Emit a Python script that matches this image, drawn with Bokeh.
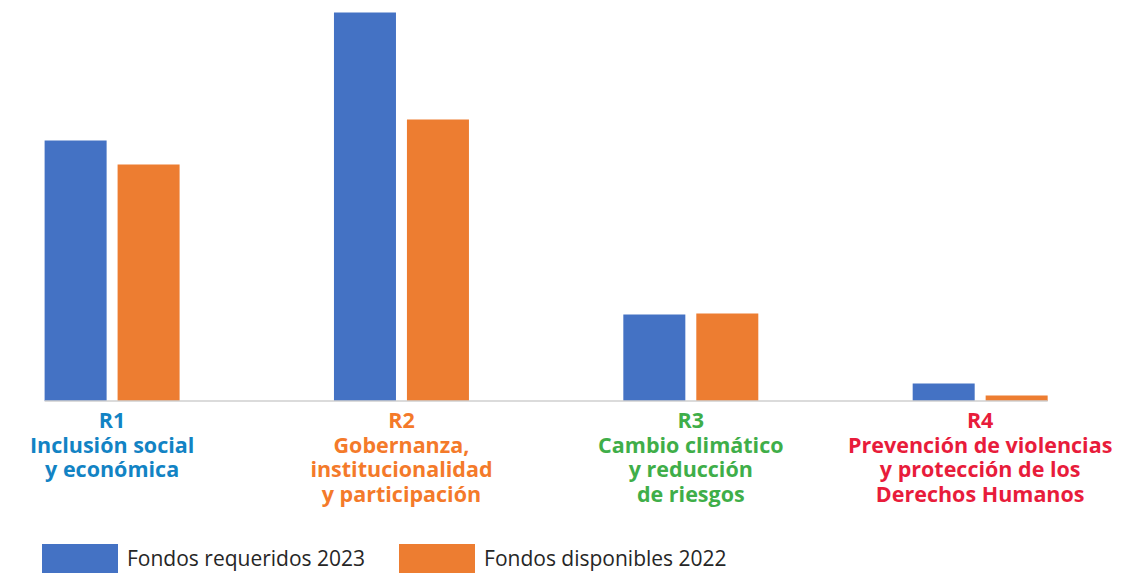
from bokeh.plotting import figure
from bokeh.models import ColumnDataSource, Range1d, Legend, LegendItem
from bokeh.core.properties import value
from bokeh.embed import file_html
from bokeh.resources import INLINE

# ---- data ----
categories = ["R1", "R2", "R3", "R4"]
category_labels = [
    "R1\nInclusión social\ny económica",
    "R2\nGobernanza,\ninstitucionalidad\ny participación",
    "R3\nCambio climático\ny reducción\nde riesgos",
    "R4\nPrevención de violencias\ny protección de los\nDerechos Humanos",
]
label_colors = ["#1283C4", "#F47A2A", "#3FAE49", "#E81C3B"]
fondos_requeridos_2023 = [26.05, 38.85, 8.65, 1.75]
fondos_disponibles_2022 = [23.65, 28.15, 8.75, 0.55]
series_names = ["Fondos requeridos 2023", "Fondos disponibles 2022"]
series_colors = ["#4472C4", "#ED7D31"]

# ---- layout ----
W, H = 1140, 576
bar_w = 0.2143
off = 0.1261
idx = list(range(len(categories)))

p = figure(width=W, height=H, output_backend="svg", toolbar_location=None,
           x_range=Range1d(-0.3857, 3.5541), y_range=Range1d(-17.55, 40.05),
           min_border=0, outline_line_color=None)
p.axis.visible = False
p.grid.visible = False
p.background_fill_color = "white"
p.border_fill_color = "white"

src_a = ColumnDataSource(dict(x=[i - off for i in idx], top=fondos_requeridos_2023))
src_b = ColumnDataSource(dict(x=[i + off for i in idx], top=fondos_disponibles_2022))
r_a = p.vbar(x="x", top="top", bottom=0, width=bar_w, source=src_a,
             fill_color=series_colors[0], line_color=None)
r_b = p.vbar(x="x", top="top", bottom=0, width=bar_w, source=src_b,
             fill_color=series_colors[1], line_color=None)

# baseline
x0 = idx[0] - off - bar_w / 2
x1 = idx[-1] + off + bar_w / 2
p.segment(x0=[x0], y0=[0], x1=[x1], y1=[0], line_color="#CFCFCF", line_width=1.5)

# category labels
lab_src = ColumnDataSource(dict(x=idx, y=[-0.42] * 4, text=category_labels, color=label_colors))
p.text(x="x", y="y", text="text", source=lab_src, text_color="color",
       text_align="center", text_baseline="top",
       text_font=value("Open Sans"), text_font_style="bold",
       text_font_size="21.5px", text_line_height=0.85)

legend = Legend(items=[LegendItem(label=series_names[0], renderers=[r_a]),
                       LegendItem(label=series_names[1], renderers=[r_b])],
                orientation="horizontal", location=(32, 0),
                glyph_width=95, glyph_height=36, label_standoff=0, spacing=24,
                padding=0, margin=0, border_line_alpha=0, background_fill_alpha=0,
                label_text_font="Open Sans", label_text_font_size="21px",
                label_text_color="#262626")
p.add_layout(legend)

open("out.html", "w").write(file_html(p, INLINE))
